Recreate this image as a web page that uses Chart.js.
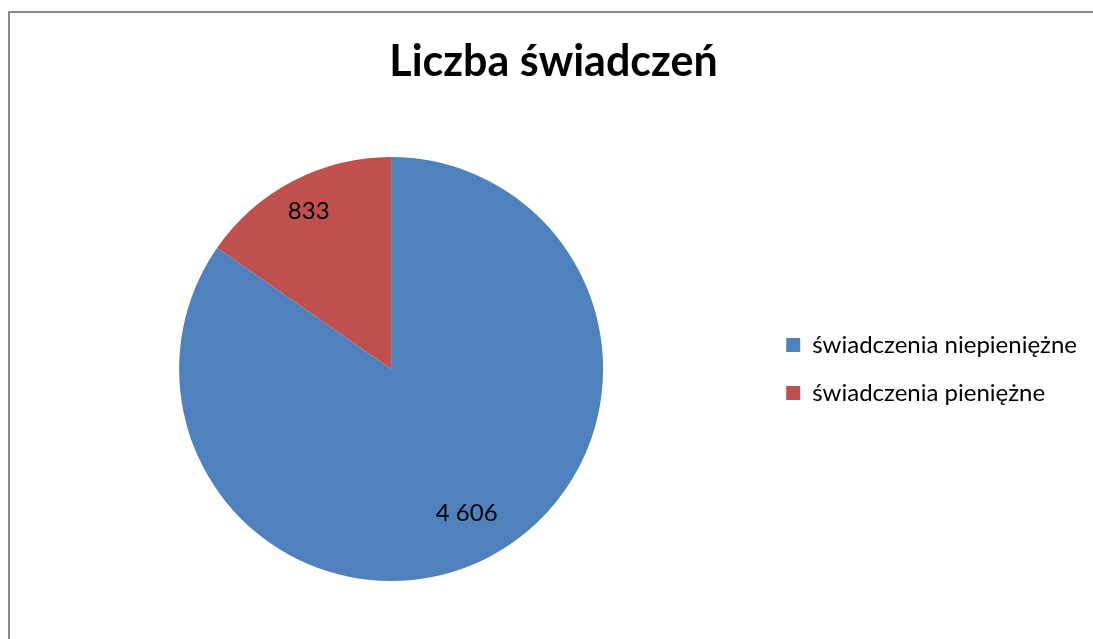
<!DOCTYPE html>
<html>
<head>
<meta charset="utf-8">
<script src="https://cdn.jsdelivr.net/npm/chart.js@4.4.1/dist/chart.umd.min.js"></script>
<style>
    html, body { margin: 0; padding: 0; background: #fff; overflow: hidden; }
    #frame {
        position: absolute; left: 8px; top: 11px;
        width: 1200px; height: 700px;
        border-left: 2px solid #8a8a8a; border-top: 2px solid #8a8a8a;
    }
    #wrap { position: absolute; left: 0; top: 0; width: 1093px; height: 639px; }
</style>
</head>
<body>
<div id="frame"></div>
<div id="wrap"><canvas id="pieChart"></canvas></div>
<script>
// Chart data
const chartTitle = "Liczba świadczeń";
const categories = ["świadczenia niepieniężne", "świadczenia pieniężne"];
const values = [4606, 833];
const sliceColors = ["#4F81BD", "#C0504D"];

// "4606" -> "4 606" (Polish style grouping)
function formatValue(v) {
    return String(v).replace(/\B(?=(\d{3})+(?!\d))/g, " ");
}

// Draw value labels inside the slices
const sliceLabels = {
    id: "sliceLabels",
    afterDatasetsDraw(chart, args, opts) {
        const ctx = chart.ctx;
        const meta = chart.getDatasetMeta(0);
        ctx.save();
        ctx.font = "24px Lato";
        ctx.fillStyle = "#000";
        ctx.textAlign = "center";
        ctx.textBaseline = "middle";
        meta.data.forEach((arc, i) => {
            const p = arc.getProps(["x", "y", "startAngle", "endAngle", "outerRadius"], true);
            const mid = (p.startAngle + p.endAngle) / 2;
            const r = p.outerRadius * opts.radius[i];
            ctx.fillText(formatValue(values[i]), p.x + Math.cos(mid) * r, p.y + Math.sin(mid) * r);
        });
        ctx.restore();
    }
};

const ctx = document.getElementById("pieChart").getContext("2d");
new Chart(ctx, {
    type: "pie",
    data: {
        labels: categories,
        datasets: [
            {
                data: values,
                backgroundColor: sliceColors,
                borderWidth: 0
            }
        ]
    },
    options: {
        responsive: true,
        maintainAspectRatio: false,
        animation: false,
        layout: {
            padding: { left: 20, right: 6, top: 0, bottom: 58 }
        },
        plugins: {
            title: {
                display: true,
                text: chartTitle,
                color: "#000",
                font: { family: "Lato", size: 43, weight: "bold", lineHeight: 1.2 },
                padding: { top: 36, bottom: 69.4 }
            },
            legend: {
                position: "right",
                fullSize: false,
                labels: {
                    color: "#000",
                    font: { family: "Lato", size: 24 },
                    boxWidth: 14,
                    boxHeight: 14,
                    padding: 24
                }
            },
            sliceLabels: { radius: [0.77, 0.84] },
            tooltip: { enabled: false }
        }
    },
    plugins: [sliceLabels]
});
</script>
</body>
</html>
